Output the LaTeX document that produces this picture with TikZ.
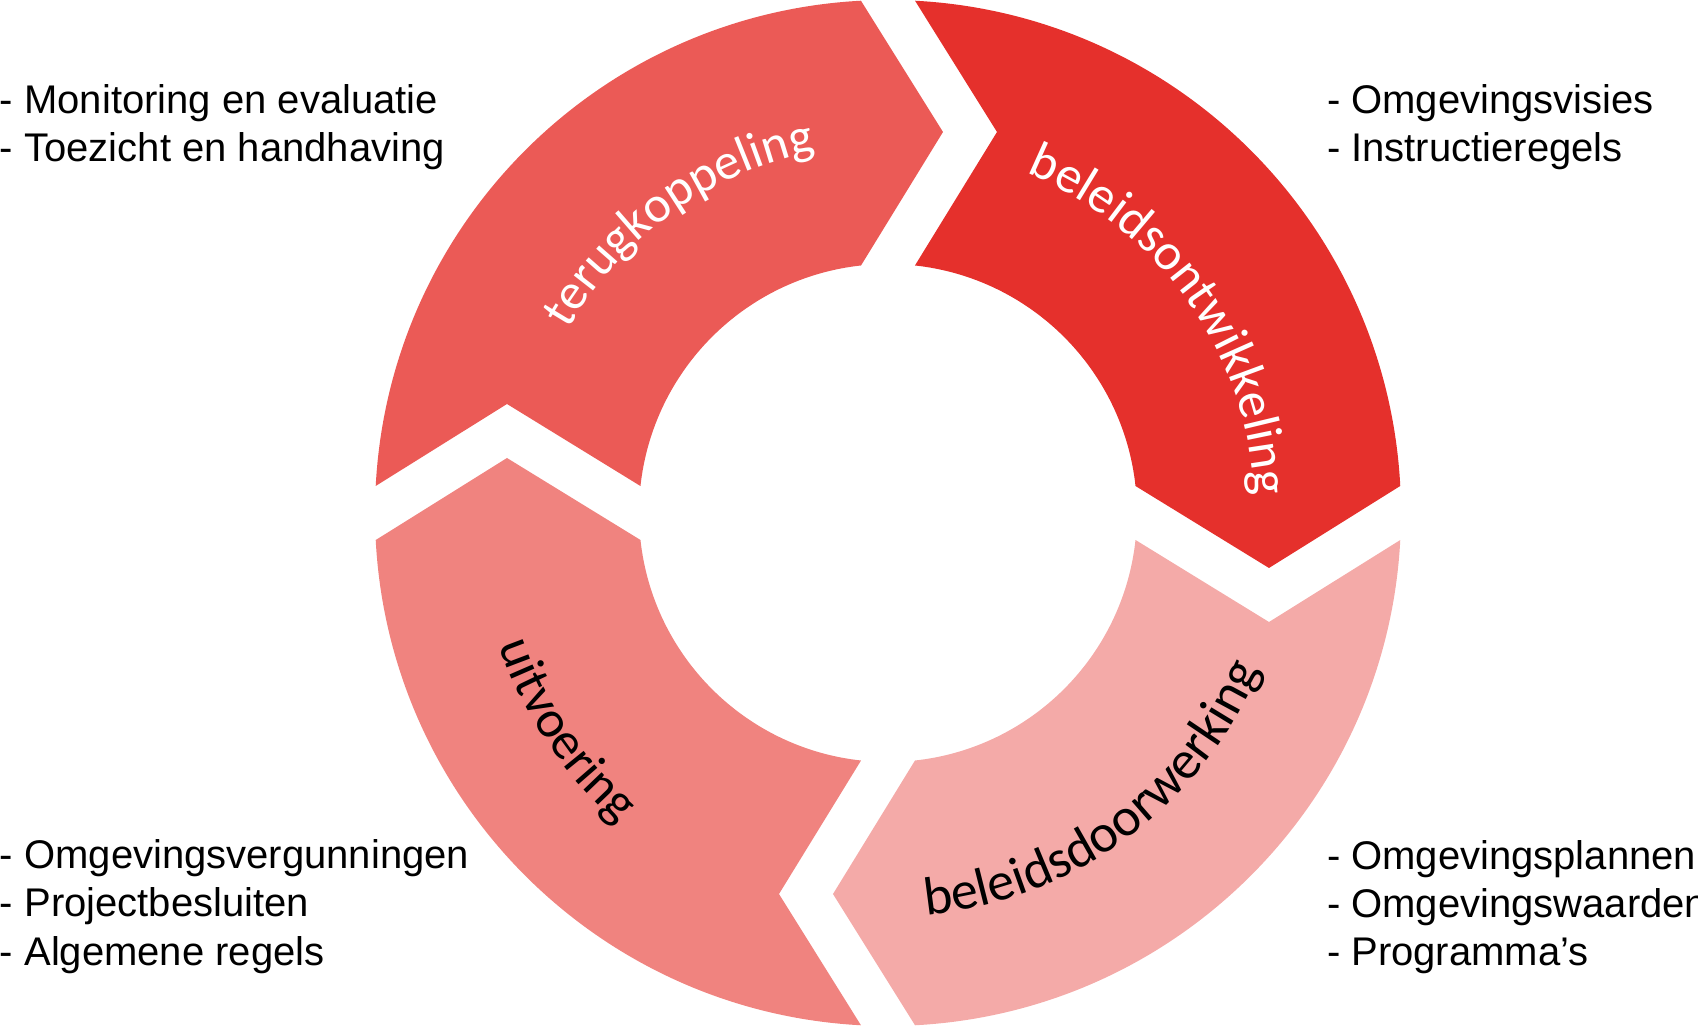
\documentclass[tikz,border=0pt]{standalone}
\usepackage{fontspec}
\usetikzlibrary{decorations.text}
\newfontfamily\lblfam{Carlito}
\newfontfamily\lstfam{Liberation Sans}
\newcommand\lblfont[1]{\lblfam\fontsize{#1}{60}\selectfont}
\newcommand\lstfont{\lstfam\fontsize{40}{48}\selectfont}
\definecolor{cTerug}{HTML}{EB5A56}
\definecolor{cOntw}{HTML}{E5302C}
\definecolor{cDoor}{HTML}{F4AAA8}
\definecolor{cUit}{HTML}{F0837F}
\tikzset{
  listitem/.style={anchor=base west, inner sep=0pt, outer sep=0pt, font=\lstfont, text=black},
  arclabel/.style={decorate, decoration={text along path, text align=center, text={#1}}}
}
\begin{document}
\begin{tikzpicture}[x=1pt,y=1pt]
\useasboundingbox (-888,-514) rectangle (810,513);
\clip (-888,-514) rectangle (810,513);
% ring segments
\foreach \rot/\col in {0/cTerug, -90/cOntw, -180/cDoor, -270/cUit}{
  \begin{scope}[rotate=\rot]
    \fill[\col] (176.98:513pt) arc[start angle=176.98, end angle=93.02, radius=513pt]
      -- (55,381) -- (96.22:249pt)
      arc[start angle=96.22, end angle=173.78, radius=249pt]
      -- (-381,109) -- cycle;
  \end{scope}
}
% curved labels
\path[arclabel={|\lblfont{51}\color{white}|terugkoppeling}]
  (175.7:369pt) arc[start angle=175.7, end angle=75.7, radius=369pt];
\path[arclabel={|\lblfont{51.5}\color{white}|beleidsontwikkeling}]
  (85.3:367pt) arc[start angle=85.3, end angle=-14.7, radius=367pt];
\path[arclabel={|\lblfont{52.5}\color{black}|uitvoering}]
  (164:411pt) arc[start angle=164, end angle=264, radius=411pt];
\path[arclabel={|\lblfont{54}\color{black}|beleidsdoorwerking}]
  (256.3:404pt) arc[start angle=256.3, end angle=356.3, radius=404pt];
% lists
\node[listitem] (tl1) at (-888,399) {- Monitoring en evaluatie};
\node[listitem] (tl2) at (-888,351) {- Toezicht en handhaving};
\node[listitem] (tr1) at (439,399) {- Omgevingsvisies};
\node[listitem] (tr2) at (439,351) {- Instructieregels};
\node[listitem] (bl1) at (-888,-356) {- Omgevingsvergunningen};
\node[listitem] (bl2) at (-888,-404) {- Projectbesluiten};
\node[listitem] (bl3) at (-888,-452) {- Algemene regels};
\node[listitem] (br1) at (439,-357) {- Omgevingsplannen};
\node[listitem] (br2) at (439,-405) {- Omgevingswaarden};
\node[listitem] (br3) at (439,-453) {- Programma’s};
\end{tikzpicture}
\end{document}
